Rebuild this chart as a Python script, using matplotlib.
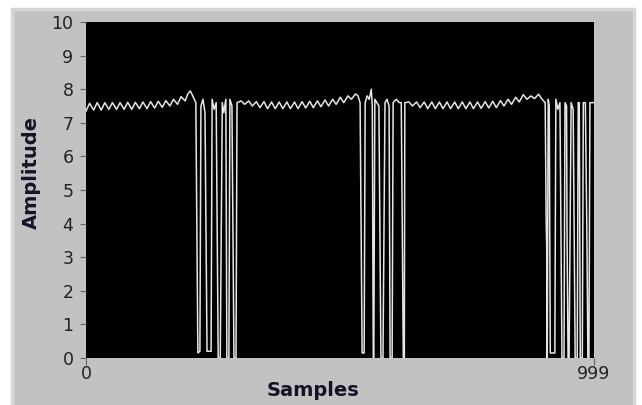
import matplotlib
import matplotlib.pyplot as plt
plt.switch_backend('agg')
from matplotlib.patches import Rectangle
import numpy as np

# waveform vertices (sample index, amplitude)
seg1_x = [0, 7, 15, 22, 30, 37, 45, 52, 60, 67, 75, 82, 90, 97, 105, 112, 120, 127,
          135, 142, 150, 157, 165, 172, 180, 187, 195, 200, 205, 210, 216]
seg1_y = [7.35, 7.58, 7.38, 7.6, 7.38, 7.6, 7.4, 7.6, 7.4, 7.6, 7.4, 7.61, 7.4, 7.61,
          7.42, 7.62, 7.42, 7.63, 7.44, 7.64, 7.46, 7.66, 7.5, 7.7, 7.55, 7.78, 7.65, 7.85,
          7.95, 7.8, 7.6]

burst1_x = [218, 220, 224, 226, 230, 234, 236, 238, 246, 248, 252, 256, 258, 260, 264,
            266, 268, 271, 275, 277, 281, 283, 287, 289, 291, 295]
burst1_y = [3.8, 0.15, 0.2, 7.5, 7.7, 7.3, 3.9, 0.2, 0.2, 7.7, 7.4, 7.6, 3.7, 0.0, 0.0,
            3.8, 7.6, 7.3, 7.7, 0.0, 0.0, 7.7, 7.5, 3.6, 0.0, 0.0]

seg2_x = [297, 305, 312, 320, 327, 335, 342, 350, 357, 365, 372, 380, 387, 395, 402, 410,
          417, 425, 432, 440, 447, 455, 462, 470, 477, 485, 492, 500, 507, 515, 522, 530, 535]
seg2_y = [7.6, 7.65, 7.55, 7.65, 7.5, 7.63, 7.45, 7.63, 7.42, 7.62, 7.42, 7.62, 7.42, 7.62,
          7.42, 7.62, 7.42, 7.63, 7.44, 7.64, 7.45, 7.65, 7.48, 7.68, 7.5, 7.7, 7.55, 7.76,
          7.6, 7.8, 7.7, 7.86, 7.8]

burst2_x = [539, 541, 543, 547, 549, 553, 557, 561, 563, 565, 566, 568, 572, 576, 578, 580,
            584, 586, 588, 592, 596, 598, 602, 604, 610, 616, 620, 622, 624, 626]
burst2_y = [7.6, 3.9, 0.15, 0.15, 7.6, 7.8, 7.7, 8.0, 7.5, 0.0, 0.0, 7.7, 7.6, 7.5, 3.8,
            0.0, 0.0, 3.8, 7.6, 7.7, 7.5, 0.0, 0.0, 7.6, 7.7, 7.6, 7.6, 3.6, 0.0, 0.0]

seg3_x = [627, 635, 642, 650, 657, 665, 672, 680, 687, 695, 702, 710, 717, 725, 732, 740,
          747, 755, 762, 770, 777, 785, 792, 800, 807, 815, 822, 830, 837, 845, 852, 860,
          867, 875, 882, 890, 897, 903]
seg3_y = [7.6, 7.62, 7.5, 7.62, 7.45, 7.62, 7.42, 7.62, 7.42, 7.62, 7.42, 7.62, 7.42, 7.62,
          7.42, 7.62, 7.42, 7.62, 7.42, 7.62, 7.43, 7.63, 7.44, 7.64, 7.45, 7.66, 7.5, 7.7,
          7.55, 7.76, 7.62, 7.84, 7.7, 7.8, 7.72, 7.85, 7.7, 7.6]

burst3_x = [905, 906, 907, 909, 911, 913, 922, 924, 928, 932, 936, 940, 942, 945, 946, 948,
            950, 952, 954, 958, 962, 966, 968, 970, 972, 976, 978, 982, 985, 987, 989, 991, 999]
burst3_y = [4.0, 3.3, 0.0, 7.7, 7.5, 0.15, 0.15, 7.7, 7.4, 7.6, 0.0, 0.0, 7.6, 7.5, 3.7, 0.0,
            0.0, 3.7, 7.6, 7.4, 0.0, 0.0, 7.6, 7.6, 0.0, 0.0, 7.6, 7.6, 3.7, 0.0, 0.0, 7.6, 7.6]

xs = seg1_x + burst1_x + seg2_x + burst2_x + seg3_x + burst3_x
ys = seg1_y + burst1_y + seg2_y + burst2_y + seg3_y + burst3_y

y_ticks = list(range(0, 11))
x_ticks = [0, 999]

fig = plt.figure(figsize=(6.42, 4.05), dpi=100)
fig.patch.set_facecolor('white')
# grey LabVIEW-style panel behind the graph
panel = Rectangle((12 / 642, -0.01), 622 / 642, 1 - 9 / 405 + 0.01, transform=fig.transFigure,
                  facecolor='#c2c2c2', edgecolor='#d6d6d6', linewidth=2.5, zorder=-5)
fig.add_artist(panel)

ax = fig.add_axes([86 / 642, 1 - 358 / 405, 508 / 642, 336 / 405])
ax.set_zorder(1)
ax.set_facecolor('black')
ax.plot(xs, ys, color='#e6e6e6', linewidth=1.1)

ax.set_xlim(0, 999)
ax.set_ylim(0, 10)
ax.set_yticks(y_ticks)
ax.set_xticks(x_ticks)
ax.set_xticklabels(['0', '999'])
for s in ax.spines.values():
    s.set_visible(False)
ax.tick_params(axis='y', length=4, width=0.8, color='#666666', labelsize=12.5,
               labelcolor='#222222', pad=5)
ax.tick_params(axis='x', length=5, width=0.8, color='#666666', labelsize=12.5,
               labelcolor='#222222', pad=0)

ax.set_ylabel('Amplitude', fontsize=14, fontweight='bold', color='#141428')
ax.yaxis.set_label_coords(-0.089, 0.553)
ax.set_xlabel('Samples', fontsize=14, fontweight='bold', color='#141428')
ax.xaxis.set_label_coords(0.447, -0.068)

fig.savefig('out.png', dpi=100, facecolor=fig.get_facecolor())
